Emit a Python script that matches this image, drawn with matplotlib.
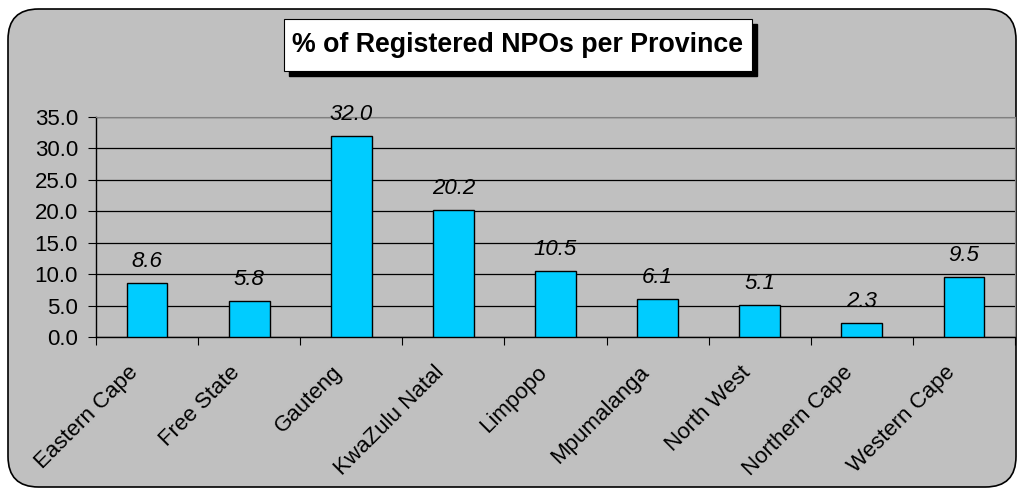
import matplotlib
matplotlib.use("Agg")
import matplotlib.pyplot as plt
from matplotlib.patches import FancyBboxPatch, Rectangle
from matplotlib.transforms import ScaledTranslation

categories = ["Eastern Cape", "Free State", "Gauteng", "KwaZulu Natal", "Limpopo",
              "Mpumalanga", "North West", "Northern Cape", "Western Cape"]
values = [8.6, 5.8, 32.0, 20.2, 10.5, 6.1, 5.1, 2.3, 9.5]
yticks = [0, 5, 10, 15, 20, 25, 30, 35]
title = "% of Registered NPOs per Province"

plt.rcParams['font.family'] = ['Liberation Sans', 'DejaVu Sans']
W, H = 1018, 488
fig = plt.figure(figsize=(W / 100, H / 100), dpi=100)
fig.patch.set_facecolor('white')

# outer chart area
bg = FancyBboxPatch((8 / W, 1 / H), 1008 / W, 478 / H,
                    boxstyle="round,pad=0,rounding_size=0.03",
                    transform=fig.transFigure, facecolor='#C0C0C0',
                    edgecolor='black', linewidth=1.2, mutation_aspect=W / H, zorder=-10)
fig.patches.append(bg)

ax = fig.add_axes([96 / W, 151 / H, 919 / W, 220 / H])
ax.set_facecolor('#C0C0C0')
x = list(range(len(categories)))
bars = ax.bar(x, values, width=0.4, color='#00CCFF', edgecolor='black', linewidth=1.0, zorder=3)
ax.set_xlim(-0.5, len(categories) - 0.5)
ax.set_ylim(0, 35)
ax.set_yticks(yticks)
ax.set_yticklabels([f"{v:.1f}" for v in yticks], fontsize=16)
ax.yaxis.grid(True, color='black', linewidth=0.9, zorder=0)
ax.set_axisbelow(True)

ax.set_xticks([i + 0.5 for i in range(-1, len(categories))])
ax.set_xticklabels([])
ax.tick_params(axis='x', length=6, color='black', direction='out')
ax.tick_params(axis='y', length=6, color='black', direction='out', pad=7)
ax.set_xticks(x, minor=True)
labels = ax.set_xticklabels(categories, minor=True, rotation=45, ha='right', va='top',
                            rotation_mode='anchor', fontsize=16)
ax.tick_params(axis='x', which='minor', length=0, pad=18)
shift = ScaledTranslation(-14 / 72, 0, fig.dpi_scale_trans)
for lab in labels:
    lab.set_transform(lab.get_transform() + shift)

for s in ['top', 'right']:
    ax.spines[s].set_color('#808080')
for s in ['left', 'bottom']:
    ax.spines[s].set_color('black')
    ax.spines[s].set_linewidth(1.0)

for b, v in zip(bars, values):
    ax.annotate(f"{v:.1f}", (b.get_x() + b.get_width() / 2, v), xytext=(0, 11.5),
                textcoords='offset points', ha='center', va='baseline',
                fontsize=16, fontstyle='italic', zorder=4)

# title box with shadow
fig.patches.append(Rectangle((289 / W, (H - 76) / H), 468 / W, 52 / H,
                             transform=fig.transFigure, facecolor='black', edgecolor='black'))
fig.patches.append(Rectangle((284 / W, (H - 71) / H), 468 / W, 52 / H,
                             transform=fig.transFigure, facecolor='white', edgecolor='black',
                             linewidth=0.8))
fig.text((284 + 234) / W, (H - 45) / H, title, ha='center', va='center',
         fontsize=19.3, fontweight='bold')

fig.savefig("out.png", dpi=100)
